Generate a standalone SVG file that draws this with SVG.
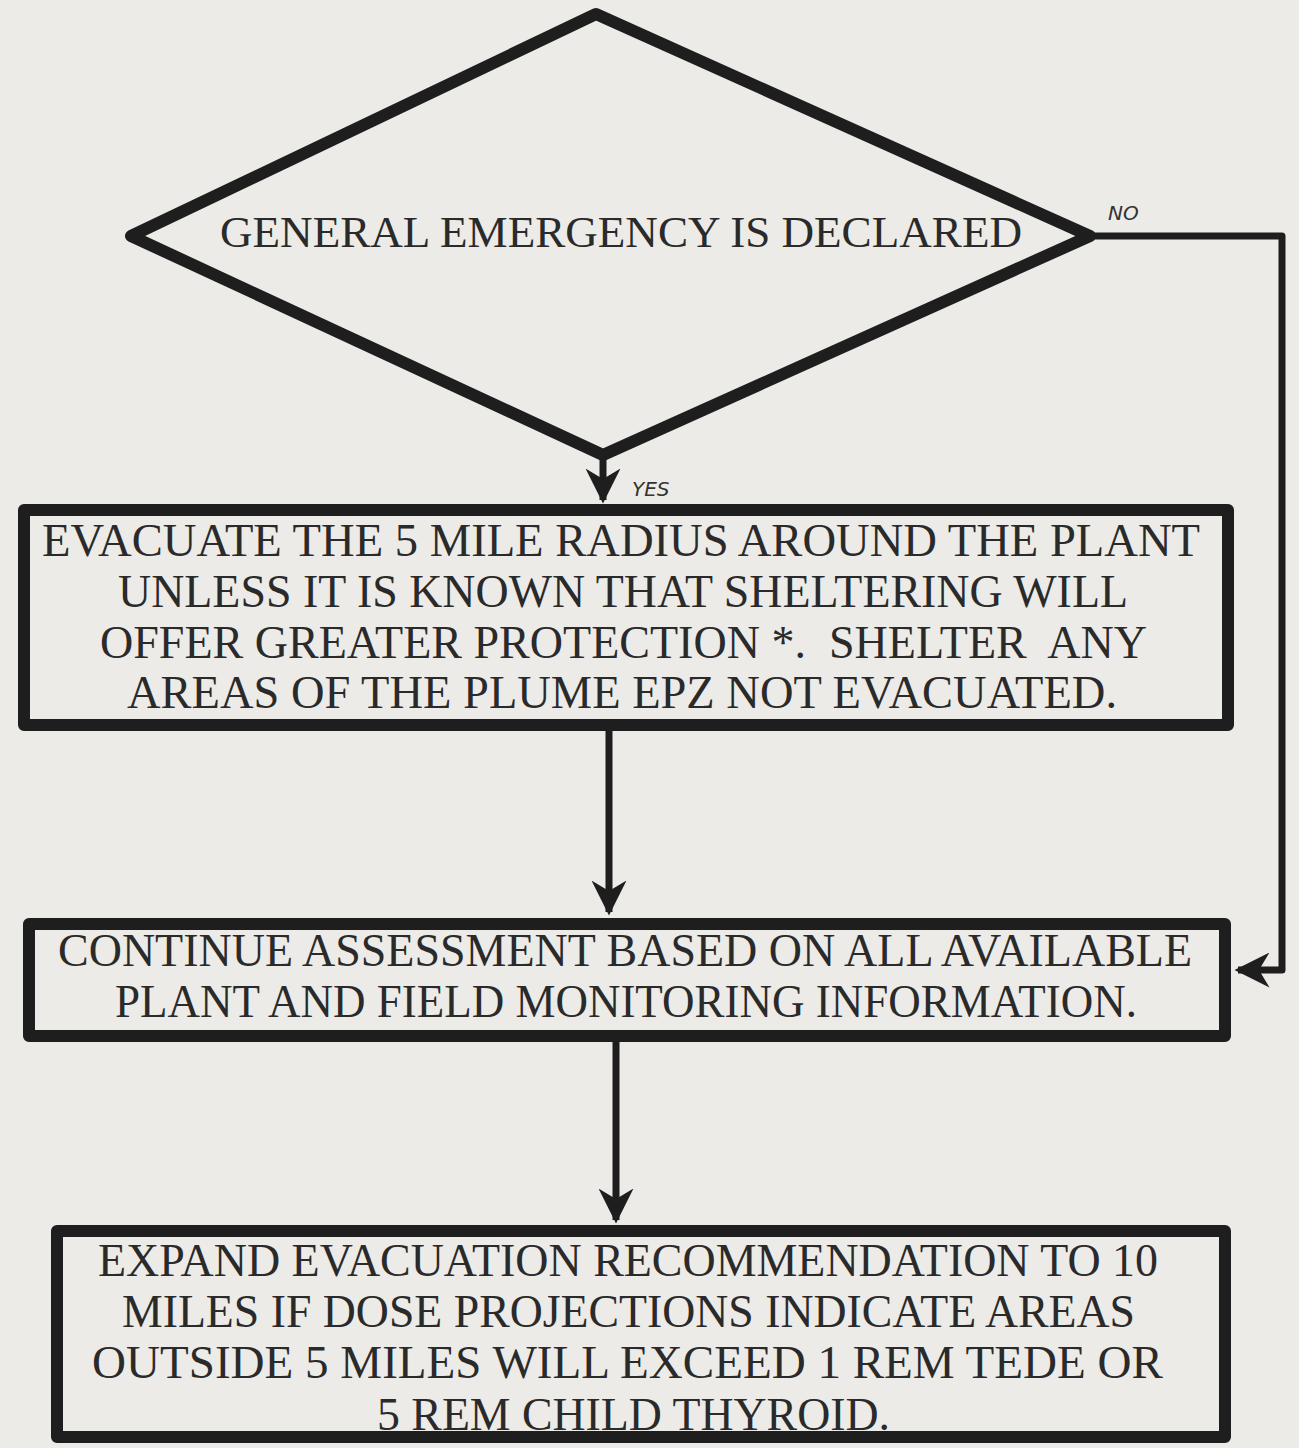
<svg xmlns="http://www.w3.org/2000/svg" width="1299" height="1448" viewBox="0 0 1299 1448">
<style>
.shape{fill:none;stroke:#1e1e1e;stroke-width:12;stroke-linejoin:round}
.conn{fill:none;stroke:#1e1e1e;stroke-width:7}
.lbl{font-family:"Liberation Serif","Times New Roman",serif;font-size:47px;fill:#2a2a2a}
.hand{font-family:"DejaVu Sans",sans-serif;font-style:italic;font-size:20px;fill:#333}
</style>
<defs>
<marker id="ah" viewBox="0 0 10 10" refX="9" refY="5" markerWidth="5" markerHeight="5" orient="auto" markerUnits="strokeWidth">
<path d="M0,0 L10,5 L0,10 L3,5 Z" fill="#1e1e1e"/>
</marker>
</defs>
<rect width="1299" height="1448" fill="#ecebe8"/>
<g id="connectors">
<path class="conn" d="M603,455 L603,500" stroke-width="10" marker-end="url(#ah)"/>
<path class="conn" d="M609,730 L609,912" marker-end="url(#ah)"/>
<path class="conn" d="M616,1040 L616,1220" marker-end="url(#ah)"/>
<path class="conn" d="M1090,236 L1282,236 L1282,970 L1238,970" stroke-width="9" stroke-linejoin="round" marker-end="url(#ah)"/>
<text class="hand" x="632" y="496">YES</text>
<text class="hand" x="1108" y="220">NO</text>
</g>
<g id="decision">
<polygon class="shape" points="596,14 131,236 603,455 1090,236"/>
<text class="lbl" x="621" y="247" text-anchor="middle" textLength="802" lengthAdjust="spacingAndGlyphs" style="font-size:45px">GENERAL EMERGENCY IS DECLARED</text>
</g>
<g id="evacuate">
<rect class="shape" x="24" y="510" width="1204" height="215"/>
<text class="lbl" x="42" y="556" textLength="1158" lengthAdjust="spacingAndGlyphs">EVACUATE THE 5 MILE RADIUS AROUND THE PLANT</text>
<text class="lbl" x="118" y="607" textLength="1010" lengthAdjust="spacingAndGlyphs">UNLESS IT IS KNOWN THAT SHELTERING WILL</text>
<text class="lbl" x="100" y="658" textLength="1047" lengthAdjust="spacingAndGlyphs" xml:space="preserve">OFFER GREATER PROTECTION *.  SHELTER  ANY</text>
<text class="lbl" x="127" y="708" textLength="990" lengthAdjust="spacingAndGlyphs">AREAS OF THE PLUME EPZ NOT EVACUATED.</text>
</g>
<g id="continue">
<rect class="shape" x="29" y="924" width="1196" height="112"/>
<text class="lbl" x="58" y="966" textLength="1134" lengthAdjust="spacingAndGlyphs">CONTINUE ASSESSMENT BASED ON ALL AVAILABLE</text>
<text class="lbl" x="115" y="1017" textLength="1022" lengthAdjust="spacingAndGlyphs">PLANT AND FIELD MONITORING INFORMATION.</text>
</g>
<g id="expand">
<rect class="shape" x="57" y="1231" width="1168" height="206"/>
<text class="lbl" x="98" y="1276" textLength="1060" lengthAdjust="spacingAndGlyphs">EXPAND EVACUATION RECOMMENDATION TO 10</text>
<text class="lbl" x="122" y="1327" textLength="1013" lengthAdjust="spacingAndGlyphs">MILES IF DOSE PROJECTIONS INDICATE AREAS</text>
<text class="lbl" x="92" y="1378" textLength="1071" lengthAdjust="spacingAndGlyphs">OUTSIDE 5 MILES WILL EXCEED 1 REM TEDE OR</text>
<text class="lbl" x="377" y="1430" textLength="513" lengthAdjust="spacingAndGlyphs">5 REM CHILD THYROID.</text>
</g>
</svg>
